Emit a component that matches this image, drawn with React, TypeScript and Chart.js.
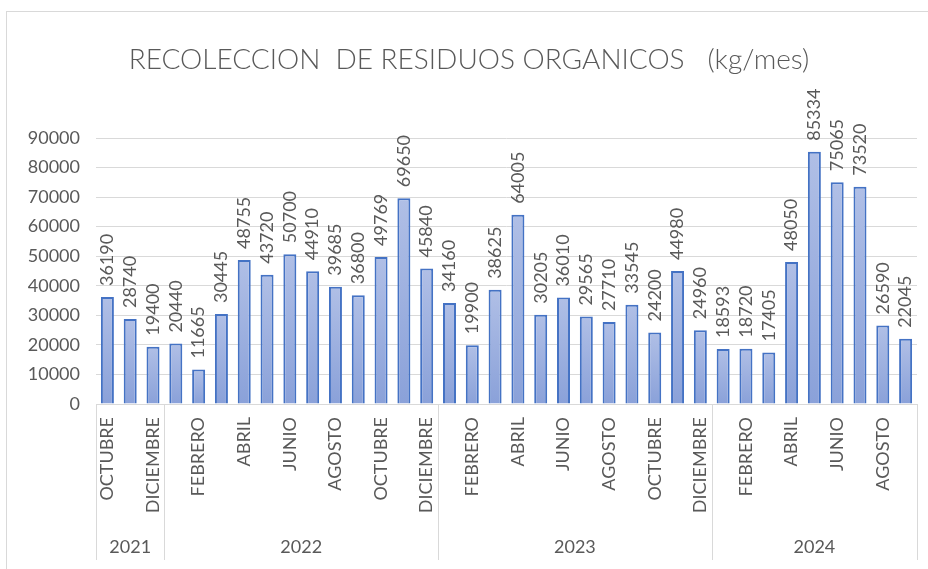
import React, { useEffect, useRef } from 'react';
import { Chart, registerables } from 'chart.js';

Chart.register(...registerables);

const TITLE = 'RECOLECCION  DE RESIDUOS ORGANICOS   (kg/mes)';

const monthLabels = [
  'OCTUBRE', 'NOVIEMBRE', 'DICIEMBRE',
  'ENERO', 'FEBRERO', 'MARZO', 'ABRIL', 'MAYO', 'JUNIO', 'JULIO', 'AGOSTO', 'SEPTIEMBRE', 'OCTUBRE', 'NOVIEMBRE', 'DICIEMBRE',
  'ENERO', 'FEBRERO', 'MARZO', 'ABRIL', 'MAYO', 'JUNIO', 'JULIO', 'AGOSTO', 'SEPTIEMBRE', 'OCTUBRE', 'NOVIEMBRE', 'DICIEMBRE',
  'ENERO', 'FEBRERO', 'MARZO', 'ABRIL', 'MAYO', 'JUNIO', 'JULIO', 'AGOSTO', 'SEPTIEMBRE',
];

const yearLabels = ['2021', '2022', '2023', '2024'];
const yearCounts = [3, 12, 12, 9];

const values = [
  36190, 28740, 19400,
  20440, 11665, 30445, 48755, 43720, 50700, 44910, 39685, 36800, 49769, 69650, 45840,
  34160, 19900, 38625, 64005, 30205, 36010, 29565, 27710, 33545, 24200, 44980, 24960,
  18593, 18720, 17405, 48050, 85334, 75065, 73520, 26590, 22045,
];

const yMin = 0;
const yMax = 90000;
const yStep = 10000;

const FONT = 'Lato, "Open Sans", sans-serif';
const TEXT = '#595959';
const LINE = '#d9d9d9';

const decorPlugin = {
  id: 'decor',
  beforeDraw(chart: any) {
    const { ctx } = chart;
    ctx.save();
    ctx.fillStyle = '#ffffff';
    ctx.fillRect(0, 0, chart.width, chart.height);
    ctx.strokeStyle = LINE;
    ctx.lineWidth = 1;
    ctx.strokeRect(6.5, 11.5, chart.width + 40, chart.height + 40);
    ctx.fillStyle = TEXT;
    ctx.font = `300 28px ${FONT}`;
    ctx.textAlign = 'center';
    ctx.textBaseline = 'alphabetic';
    ctx.fillText(TITLE, 469, 69);
    ctx.restore();
  },
  afterDatasetsDraw(chart: any) {
    const { ctx, chartArea } = chart;
    const meta = chart.getDatasetMeta(0);
    ctx.save();
    ctx.fillStyle = TEXT;
    ctx.font = `18px ${FONT}`;
    meta.data.forEach((bar: any, i: number) => {
      ctx.save();
      ctx.translate(bar.x, bar.y - 11);
      ctx.rotate(-Math.PI / 2);
      ctx.textAlign = 'left';
      ctx.textBaseline = 'middle';
      ctx.fillText(String(values[i]), 0, 0);
      ctx.restore();
    });

    // group separators and year labels
    const xs = chart.scales.x;
    const half = (xs.getPixelForValue(1) - xs.getPixelForValue(0)) / 2;
    let idx = 0;
    const edges: number[] = [chartArea.left];
    yearCounts.forEach((c) => {
      idx += c;
      edges.push(idx >= values.length ? chartArea.right : xs.getPixelForValue(idx - 1) + half);
    });
    ctx.strokeStyle = LINE;
    ctx.lineWidth = 1;
    edges.forEach((e) => {
      const x = Math.round(e) + 0.5;
      ctx.beginPath();
      ctx.moveTo(x, chartArea.bottom);
      ctx.lineTo(x, 560);
      ctx.stroke();
    });
    ctx.fillStyle = TEXT;
    ctx.font = `18px ${FONT}`;
    ctx.textAlign = 'center';
    ctx.textBaseline = 'middle';
    yearLabels.forEach((y, i) => {
      ctx.fillText(y, (edges[i] + edges[i + 1]) / 2, 547);
    });
    ctx.restore();
  },
};

export default function App() {
  const ref = useRef<HTMLCanvasElement | null>(null);

  useEffect(() => {
    if (!ref.current) return;
    const chart = new Chart(ref.current, {
      type: 'bar',
      data: {
        labels: monthLabels,
        datasets: [
          {
            data: values,
            backgroundColor: (c: any) => {
              const ch = c.chart;
              const area = ch.chartArea;
              if (!area || c.raw == null) return '#9eb0e0';
              const ys = ch.scales.y;
              const top = ys.getPixelForValue(c.raw as number);
              const bottom = ys.getPixelForValue(0);
              const g = ch.ctx.createLinearGradient(0, top, 0, bottom);
              g.addColorStop(0, '#b0bfe6');
              g.addColorStop(1, '#8aa1d9');
              return g;
            },
            borderColor: '#4472c4',
            borderWidth: 2,
            barPercentage: 0.57,
            categoryPercentage: 1,
          },
        ],
      },
      options: {
        responsive: false,
        animation: false,
        layout: { padding: { top: 138, right: 11, left: 0, bottom: 0 } },
        plugins: {
          legend: { display: false },
          title: { display: false },
          tooltip: { enabled: false },
        },
        scales: {
          x: {
            grid: { display: false, drawTicks: false },
            border: { display: true, color: LINE, width: 1 },
            ticks: {
              autoSkip: false,
              minRotation: 90,
              maxRotation: 90,
              padding: 13,
              color: TEXT,
              font: { family: FONT, size: 18 },
              callback: (_v: any, i: number) => (i % 2 === 0 ? monthLabels[i] : ''),
            },
            afterFit: (s: any) => {
              s.height = 165;
              s.paddingLeft = 0;
              s.paddingRight = 0;
            },
          },
          y: {
            min: yMin,
            max: yMax,
            grid: { color: LINE, drawTicks: false },
            border: { display: false },
            ticks: {
              stepSize: yStep,
              padding: 16,
              color: TEXT,
              font: { family: FONT, size: 18 },
              callback: (v: any) => String(v),
            },
            afterFit: (s: any) => {
              s.width = 96;
            },
          },
        },
      },
      plugins: [decorPlugin],
    });
    return () => chart.destroy();
  }, []);

  return (
    <div style={{ position: 'absolute', left: 0, top: 0, width: 928, height: 569 }}>
      <canvas ref={ref} width={928} height={569} />
    </div>
  );
}
